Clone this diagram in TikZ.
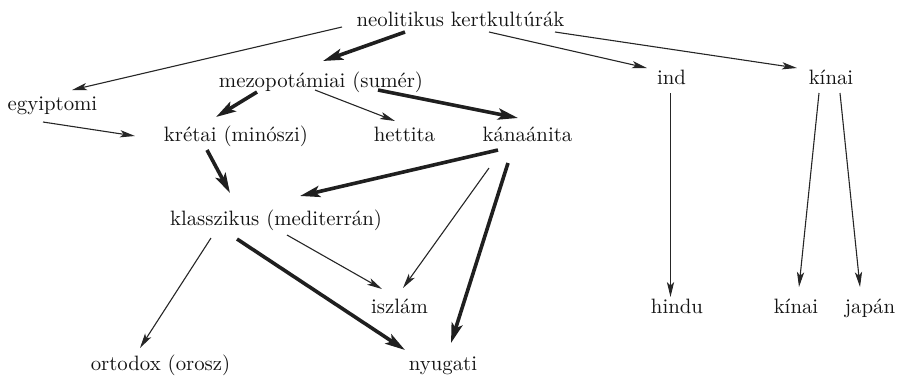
\documentclass[tikz,border=0pt]{standalone}
\usetikzlibrary{arrows.meta}
\begin{document}
\begin{tikzpicture}[x=0.5pt,y=-0.5pt,
  lbl/.style={anchor=base,inner sep=0pt,text=black!92,font=\fontsize{10.4}{12}\selectfont},
  thinarr/.style={draw=black!85,line width=0.55pt,-{Stealth[length=7.5pt,width=3.6pt,inset=1.8pt]}},
  thickarr/.style={draw=black!88,line width=1.8pt,-{Stealth[length=10pt,width=5.6pt,inset=2.2pt]}}]
\useasboundingbox (0,0) rectangle (903,377);
% culture names
\node[lbl] (neo)  at (460.5,26) {neolitikus kertkultúrák};
\node[lbl] (mezo) at (321,87)   {mezopotámiai (sumér)};
\node[lbl] (egy)  at (52.5,110) {egyiptomi};
\node[lbl] (kre)  at (236,141)  {krétai (minószi)};
\node[lbl] (het)  at (404.5,141){hettita};
\node[lbl] (kan)  at (527.5,141){kánaánita};
\node[lbl] (ind)  at (671.5,84) {ind};
\node[lbl] (kin)  at (831,84)   {kínai};
\node[lbl] (kla)  at (276,225)  {klasszikus (mediterrán)};
\node[lbl] (isz)  at (399.5,313){iszlám};
\node[lbl] (ort)  at (160.5,370){ortodox (orosz)};
\node[lbl] (nyu)  at (443,370)  {nyugati};
\node[lbl] (hin)  at (677,313)  {hindu};
\node[lbl] (kinb) at (796,313)  {kínai};
\node[lbl] (jap)  at (870,313)  {japán};
% lines of descent
\draw[thinarr]  ([shift={(-118.5,1)}]neo.base) -- ([shift={(19.5,-20)}]egy.base);
\draw[thickarr] ([shift={(-55.5,6)}]neo.base)  -- ([shift={(2,-26)}]mezo.base);
\draw[thinarr]  ([shift={(28.5,6)}]neo.base)   -- ([shift={(-24.5,-16)}]ind.base);
\draw[thinarr]  ([shift={(94.5,6)}]neo.base)   -- ([shift={(-34,-16)}]kin.base);
\draw[thickarr] ([shift={(-64,5)}]mezo.base)   -- ([shift={(-20,-24)}]kre.base);
\draw[thinarr]  ([shift={(-6,3)}]mezo.base)    -- ([shift={(-9.5,-20)}]het.base);
\draw[thickarr] ([shift={(57,3)}]mezo.base)    -- ([shift={(-9.5,-23)}]kan.base);
\draw[thinarr]  ([shift={(-9.5,12)}]egy.base)  -- ([shift={(-101,-5)}]kre.base);
\draw[thickarr] ([shift={(-29,9)}]kre.base)    -- ([shift={(-46,-32)}]kla.base);
\draw[thickarr] ([shift={(-29.5,9)}]kan.base)  -- ([shift={(24,-29)}]kla.base);
\draw[thinarr]  ([shift={(-38.5,27)}]kan.base) -- ([shift={(3.5,-25)}]isz.base);
\draw[thickarr] ([shift={(-19.5,22)}]kan.base) -- ([shift={(8,-27)}]nyu.base);
\draw[thinarr]  ([shift={(-65,13)}]kla.base)   -- ([shift={(-20.5,-22)}]ort.base);
\draw[thinarr]  ([shift={(11,10)}]kla.base)    -- ([shift={(-17.5,-24)}]isz.base);
\draw[thickarr] ([shift={(-39,14)}]kla.base)   -- ([shift={(-38,-20)}]nyu.base);
\draw[thinarr]  ([shift={(-1,9)}]ind.base)     -- ([shift={(-6.5,-16)}]hin.base);
\draw[thinarr]  ([shift={(-12,9)}]kin.base)    -- ([shift={(3,-26)}]kinb.base);
\draw[thinarr]  ([shift={(9,9)}]kin.base)      -- ([shift={(-10,-26)}]jap.base);
\end{tikzpicture}
\end{document}
